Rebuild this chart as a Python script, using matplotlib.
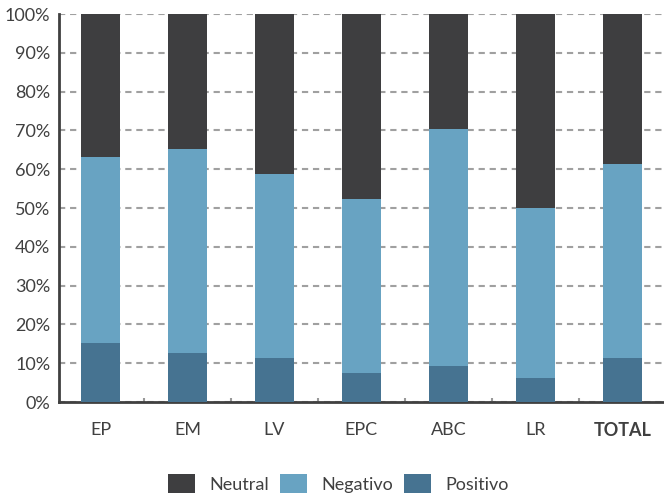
import matplotlib.pyplot as plt
import numpy as np

categorias = ["EP", "EM", "LV", "EPC", "ABC", "LR", "TOTAL"]
positivo = [15.3, 12.7, 11.4, 7.5, 9.4, 6.3, 11.4]
negativo_acum = [63.2, 65.2, 58.8, 52.3, 70.4, 50.1, 61.4]
negativo = [n - p for n, p in zip(negativo_acum, positivo)]
neutral = [100 - n for n in negativo_acum]

c_neutral = "#3e3e40"
c_negativo = "#68a3c2"
c_positivo = "#467391"
c_texto = "#404040"

plt.rcParams['font.family'] = ['Lato', 'DejaVu Sans']

fig = plt.figure(figsize=(6.64, 4.93), dpi=100)
ax = fig.add_axes([0.0884, 0.1844, 0.9116, 0.787])

x = np.arange(len(categorias))
w = 0.445
ax.bar(x, positivo, w, color=c_positivo, label="Positivo", zorder=3)
ax.bar(x, negativo, w, bottom=positivo, color=c_negativo, label="Negativo", zorder=3)
ax.bar(x, neutral, w, bottom=negativo_acum, color=c_neutral, label="Neutral", zorder=3)

ax.set_xlim(-0.48, 6.48)
ax.set_ylim(0, 100)
ax.set_yticks(np.arange(0, 101, 10))
ax.set_yticklabels([f"{v}%" for v in range(0, 101, 10)])
ax.set_xticks(x)
ax.set_xticklabels(categorias)
ax.get_xticklabels()[-1].set_fontweight("bold")

# small separator ticks between categories
ax.set_xticks(x[:-1] + 0.5, minor=True)
ax.tick_params(axis="x", which="minor", direction="in", length=3, color="#999999", width=1.5)
ax.tick_params(axis="x", which="major", length=0, pad=14, labelsize=13, labelcolor=c_texto)
ax.tick_params(axis="y", length=0, pad=6, labelsize=13, labelcolor=c_texto)

ax.yaxis.grid(True, linestyle=(0, (3, 2.3)), color="#a0a0a0", linewidth=1.5, zorder=0)
ax.set_axisbelow(True)
for s in ["top", "right"]:
    ax.spines[s].set_visible(False)
for s in ["left", "bottom"]:
    ax.spines[s].set_color(c_texto)
    ax.spines[s].set_linewidth(2)

handles, labels = ax.get_legend_handles_labels()
order = [2, 1, 0]
fig.legend([handles[i] for i in order], [labels[i] for i in order],
           loc="lower center", bbox_to_anchor=(0.51, -0.035), ncol=3, frameon=False,
           fontsize=13, handlelength=1.5, handleheight=1.3, columnspacing=0.6,
           handletextpad=0.8, labelcolor=c_texto)

fig.savefig("out.png", dpi=100)
